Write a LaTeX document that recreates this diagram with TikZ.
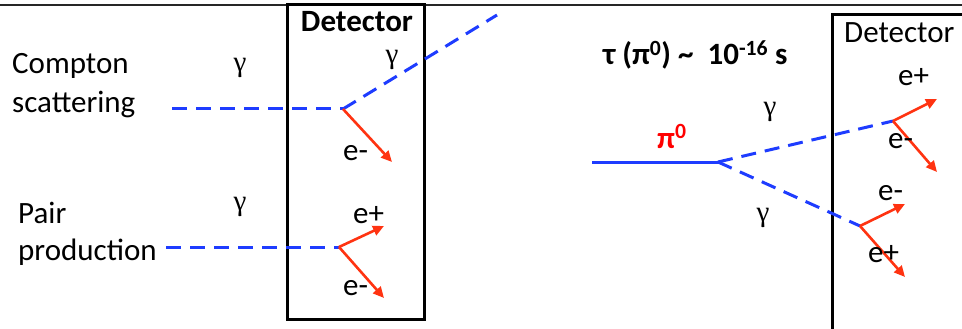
\documentclass[tikz,border=0pt]{standalone}
\usepackage{fontspec}
\setmainfont{Carlito}
\newfontfamily\symfont{Liberation Serif}
\usetikzlibrary{arrows.meta}
\definecolor{phblue}{RGB}{30,60,255}
\definecolor{elred}{RGB}{255,51,17}
\begin{document}
\begin{tikzpicture}[x=1pt,y=-1pt,
  lbl/.style={inner sep=0pt, font=\fontsize{31}{37}\selectfont},
  boldlbl/.style={inner sep=0pt, font=\bfseries\fontsize{31}{37}\selectfont},
  gam/.style={inner sep=0pt, font=\symfont\fontsize{29}{34}\selectfont},
  photon/.style={draw=phblue, line width=3pt, dash pattern=on 15pt off 9pt},
  pionline/.style={draw=phblue, line width=3pt},
  lepton/.style={draw=elred, line width=2.6pt, -{Triangle[length=11pt,width=10pt]}},
  detbox/.style={draw=black, line width=3pt}]
\useasboundingbox (0,0) rectangle (962,329);
% top rule
\draw[line width=1.6pt, black!85] (0,5) -- (962,5);
% detector boxes
\draw[detbox] (287,5) rectangle (424,319);
\draw[detbox] (964,15) -- (832,15) -- (832,331);
\node[boldlbl, anchor=base] (det1) at (357,32) {Detector};
\node[lbl, anchor=base west] (det2) at (844,43) {Detector};
% left labels
\node[lbl, anchor=base west] (compA) at (12,74) {Compton};
\node[lbl, anchor=base west] (compB) at (12,113) {scattering};
\node[lbl, anchor=base west] (pairA) at (18,223) {Pair};
\node[lbl, anchor=base west] (pairB) at (18,260) {production};
% gammas
\node[gam] (gl1) at (240,68) {γ};
\node[gam] (gl2) at (240,207) {γ};
\node[gam] (gl3) at (392,60) {γ};
\node[gam] (gr1) at (770,112) {γ};
\node[gam] (gr2) at (763,218) {γ};
% Compton
\coordinate (cin) at (172,109);
\coordinate (cv) at (343,109);
\coordinate (cout) at (497,15);
\coordinate (ce) at (392,162);
\draw[photon] (cin) -- (cv);
\draw[photon] (cv) -- (cout);
\draw[lepton] (cv) -- (ce);
\node[lbl, anchor=base west] (ce1) at (343,160) {e-};
% Pair production
\coordinate (pin) at (166,247);
\coordinate (pv) at (339,247);
\coordinate (pp) at (384,226);
\coordinate (pm) at (384,298);
\draw[photon] (pin) -- (pv);
\draw[lepton] (pv) -- (pp);
\draw[lepton] (pv) -- (pm);
\node[lbl, anchor=base west] (pe1) at (353,223) {e+};
\node[lbl, anchor=base west] (pe2) at (343,295) {e-};
% pion decay
\node[boldlbl, anchor=base west] (tau) at (603,65) {τ (π\textsuperscript{0}) \textasciitilde\ \ 10\textsuperscript{-16} s};
\node[boldlbl, text=red, anchor=base west] (pilbl) at (657,148) {π\textsuperscript{0}};
\coordinate (pia) at (592,162);
\coordinate (piv) at (718,162);
\coordinate (g1) at (893,121);
\coordinate (g2) at (860,226);
\draw[pionline] (pia) -- (piv);
\draw[photon] (piv) -- (g1);
\draw[photon] (piv) -- (g2);
\coordinate (g1p) at (937,99);
\coordinate (g1m) at (937,172);
\coordinate (g2m) at (905,204);
\coordinate (g2p) at (905,277);
\draw[lepton] (g1) -- (g1p);
\draw[lepton] (g1) -- (g1m);
\draw[lepton] (g2) -- (g2m);
\draw[lepton] (g2) -- (g2p);
\node[lbl, anchor=base west] (re1) at (898,85) {e+};
\node[lbl, anchor=base west] (re2) at (888,148) {e-};
\node[lbl, anchor=base west] (re3) at (878,200) {e-};
\node[lbl, anchor=base west] (re4) at (868,262) {e+};
\end{tikzpicture}
\end{document}
